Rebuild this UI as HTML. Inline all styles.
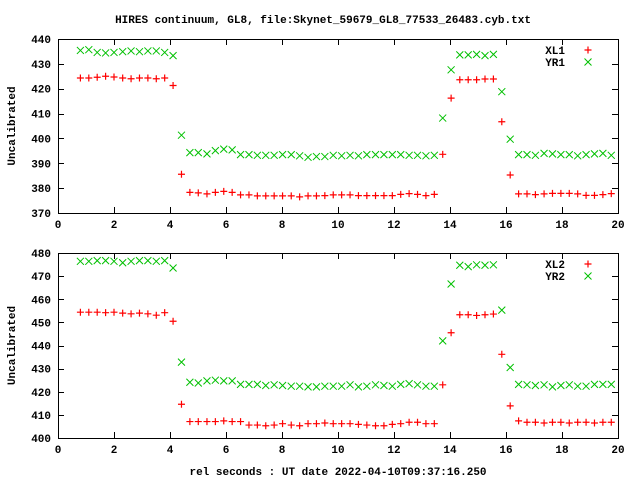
<!DOCTYPE html>
<html><head><meta charset="utf-8"><style>
body{margin:0;background:#fff}
svg text{font-family:"Liberation Mono","DejaVu Sans Mono",monospace;font-weight:bold;font-size:11px;fill:#000}
</style></head><body>
<svg id="chart" width="640" height="480" viewBox="0 0 640 480" xmlns="http://www.w3.org/2000/svg">
<rect width="640" height="480" fill="#fff"/>
<text x="323" y="23" text-anchor="middle">HIRES continuum, GL8, file:Skynet_59679_GL8_77533_26483.cyb.txt</text>
<text x="338" y="475" text-anchor="middle">rel seconds : UT date 2022-04-10T09:37:16.250</text>
<g id="g1"></g>
<g id="g2"></g>
</svg>
<script>
const times=[0.80,1.10,1.40,1.70,2.00,2.31,2.61,2.91,3.21,3.51,3.81,4.11,4.41,4.71,5.01,5.32,5.62,5.92,6.22,6.52,6.82,7.12,7.42,7.72,8.02,8.33,8.63,8.93,9.23,9.53,9.83,10.13,10.43,10.73,11.03,11.34,11.64,11.94,12.24,12.54,12.84,13.14,13.44,13.74,14.04,14.35,14.65,14.95,15.25,15.55,15.85,16.15,16.45,16.75,17.05,17.36,17.66,17.96,18.26,18.56,18.86,19.16,19.46,19.76];
const xl1=[424.3,424.3,424.6,425.0,424.7,424.3,424.0,424.3,424.3,424.0,424.3,421.3,385.6,378.3,378.1,377.7,378.3,378.7,378.3,377.3,377.3,376.9,376.9,376.9,376.9,376.9,376.5,376.9,376.9,377.0,377.3,377.3,377.3,377.0,377.0,377.0,377.0,377.0,377.5,377.8,377.5,377.0,377.5,393.6,416.2,423.6,423.6,423.6,423.9,423.9,406.7,385.3,377.7,377.7,377.4,377.7,377.9,377.9,377.9,377.7,377.1,377.1,377.4,377.8];
const yr1=[435.4,435.7,434.6,434.4,434.6,434.9,435.2,434.9,435.2,435.2,434.6,433.3,401.3,394.3,394.3,393.8,395.1,395.7,395.4,393.5,393.5,393.2,393.2,393.2,393.5,393.5,393.0,392.4,392.7,392.7,393.2,393.0,393.2,393.0,393.5,393.5,393.5,393.5,393.5,393.2,393.2,393.0,393.2,408.2,427.6,433.6,433.6,433.8,433.3,433.8,418.8,399.7,393.5,393.5,393.2,394.0,393.8,393.5,393.5,393.0,393.5,393.8,394.0,393.2];
const xl2=[454.4,454.4,454.4,454.2,454.4,454.0,453.7,454.0,453.7,453.1,454.2,450.5,414.6,407.1,407.1,407.1,407.1,407.4,407.1,407.1,405.6,405.6,405.3,405.6,406.2,405.6,405.3,406.2,406.2,406.5,406.2,406.2,406.2,405.9,405.6,405.3,405.3,405.9,406.2,406.8,406.8,406.2,406.2,423.0,445.5,453.3,453.3,453.0,453.3,453.6,436.2,413.9,407.4,406.8,406.8,406.5,406.8,406.8,406.5,406.8,406.8,406.5,406.8,406.8];
const yr2=[476.4,476.4,476.7,476.7,476.4,475.8,476.4,476.7,476.7,476.4,476.7,473.5,432.8,424.1,423.8,424.7,425.0,424.7,424.7,423.2,423.2,423.2,422.7,423.0,422.7,422.4,422.4,422.1,422.1,422.4,422.4,422.4,423.0,422.1,422.4,423.0,422.7,422.4,423.2,423.5,423.0,422.4,422.4,442.0,466.6,474.7,474.1,474.9,474.7,474.9,455.3,430.5,423.2,423.0,422.7,423.0,422.1,422.7,423.0,422.4,422.4,423.2,423.2,423.2];
const xTicks=[0,2,4,6,8,10,12,14,16,18,20];
const yTicks1=[370,380,390,400,410,420,430,440];
const yTicks2=[400,410,420,430,440,450,460,470,480];
const NS="http://www.w3.org/2000/svg";
function mk(p,tag,at){const e=document.createElementNS(NS,tag);for(const k in at)e.setAttribute(k,at[k]);p.appendChild(e);return e;}
function panel(g,top,bot,ymin,ymax,yTicks,s1,s2,n1,n2){
  const L=58,R=618;
  const X=v=>L+(v-0)/(20-0)*(R-L);
  const Y=v=>bot-(v-ymin)/(ymax-ymin)*(bot-top);
  const fr=mk(g,'rect',{x:L+.5,y:top+.5,width:R-L,height:bot-top,fill:'none',stroke:'#000','stroke-width':1});
  
  
  xTicks.forEach(t=>{const x=Math.round(X(t))+.5;
    mk(g,'path',{d:`M${x} ${bot}v-6M${x} ${top}v6`,stroke:'#000'});
    const tx=mk(g,'text',{x:X(t),y:bot+15,'text-anchor':'middle'});tx.textContent=t;
    
    });
  yTicks.forEach(t=>{const y=Math.round(Y(t))+.5;
    mk(g,'path',{d:`M${L} ${y}h6M${R} ${y}h-6`,stroke:'#000'});
    const tx=mk(g,'text',{x:51,y:Y(t)+4,'text-anchor':'end'});tx.textContent=t;
    
    });
  const cy=(top+bot)/2;
  const yl=mk(g,'text',{x:0,y:0,'text-anchor':'middle',transform:`translate(15,${cy}) rotate(-90)`});yl.textContent='Uncalibrated';
  
  
  const plus=(x,y,c)=>mk(g,'path',{d:`M${x-3.5} ${y}h7M${x} ${y-3.5}v7`,stroke:c,'stroke-width':1.2,fill:'none'});
  const cross=(x,y,c)=>mk(g,'path',{d:`M${x-3.5} ${y-3.5}l7 7M${x-3.5} ${y+3.5}l7 -7`,stroke:c,'stroke-width':1,fill:'none'});
  times.forEach((t,i)=>{const p=plus(X(t),Y(s1[i]),'#ff0000');
    
    
    const c=cross(X(t),Y(s2[i]),'#00c000');
    
    });
  const a=mk(g,'text',{x:565,y:top+15,'text-anchor':'end'});a.textContent=n1;
  
  
  plus(588,top+11,'#ff0000');
  const b=mk(g,'text',{x:565,y:top+27,'text-anchor':'end'});b.textContent=n2;
  
  
  cross(588,top+23,'#00c000');
}
panel(document.getElementById('g1'),39,213,370,440,yTicks1,xl1,yr1,'XL1','YR1');
panel(document.getElementById('g2'),253,438,400,480,yTicks2,xl2,yr2,'XL2','YR2');
</script>
</body></html>
